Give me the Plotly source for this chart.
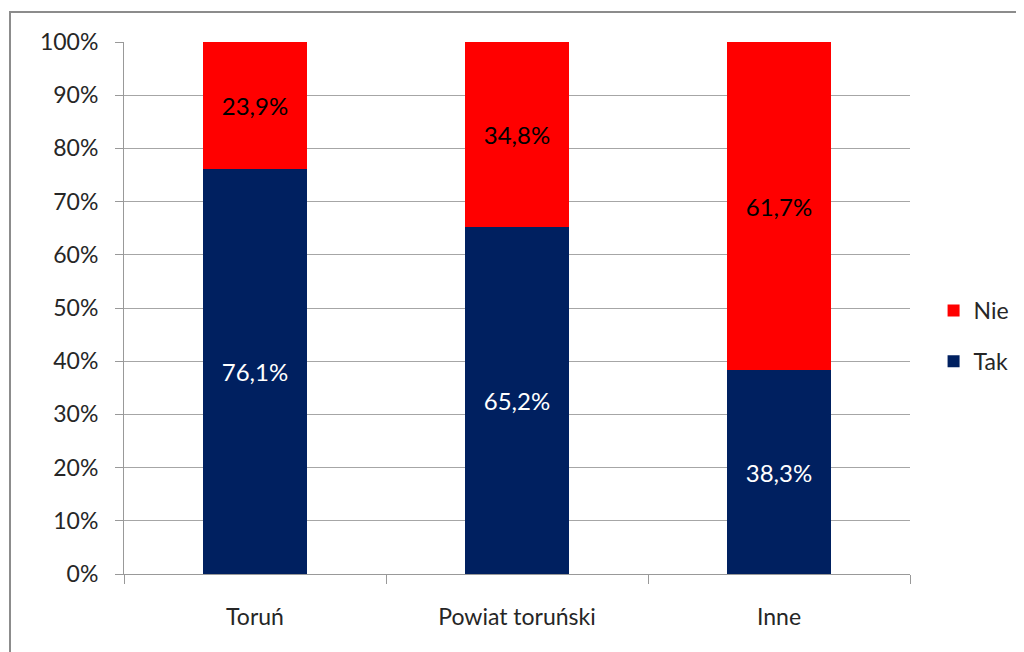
import plotly.graph_objects as go

categories = ["Toruń", "Powiat toruński", "Inne"]
tak_values = [76.1, 65.2, 38.3]
nie_values = [23.9, 34.8, 61.7]
y_tick_vals = [0, 10, 20, 30, 40, 50, 60, 70, 80, 90, 100]
y_tick_text = [f"{v}%" for v in y_tick_vals]

def fmt(v):
    return f"{v:.1f}%".replace(".", ",")

FONT = "Lato"
FS = 23
fig = go.Figure()
fig.add_trace(go.Bar(
    x=categories, y=tak_values, name="Tak", marker_color="#002060",
    marker_line_width=0,
    text=[fmt(v) for v in tak_values], textposition="inside",
    insidetextanchor="middle", textangle=0,
    textfont=dict(color="white", size=24, family=FONT),
    legendgroup="tak", legendrank=2, hoverinfo="skip",
))
fig.add_trace(go.Bar(
    x=categories, y=nie_values, name="Nie", marker_color="#FF0000",
    marker_line_width=0,
    text=[fmt(v) for v in nie_values], textposition="inside",
    insidetextanchor="middle", textangle=0,
    textfont=dict(color="black", size=24, family=FONT),
    legendgroup="nie", legendrank=1, hoverinfo="skip",
))

# page body has an 8px margin; compensate
L, T = 116, 34
PW, PH = 786, 532
fig.update_layout(
    barmode="stack",
    bargap=0.6,
    width=1016, height=644,
    margin=dict(l=L, r=114, t=T, b=78, autoexpand=False),
    paper_bgcolor="white", plot_bgcolor="white",
    font=dict(family=FONT, size=FS, color="#262626"),
    legend=dict(
        xref="container", yref="container",
        x=0.911, y=(644 - (336 - 8)) / 644, xanchor="left", yanchor="middle",
        traceorder="grouped", tracegroupgap=18,
        font=dict(size=FS, family=FONT, color="#262626"),
        itemwidth=30,
    ),
    showlegend=True,
)
fig.update_xaxes(
    type="category", tickson="boundaries", ticks="outside", ticklen=9,
    tickcolor="#999999", showline=True, linecolor="#999999", linewidth=1,
    showgrid=False, ticklabelstandoff=22,
)
fig.update_yaxes(
    range=[0, 100], tickvals=y_tick_vals, ticktext=y_tick_text,
    ticks="outside", ticklen=8, tickcolor="#999999",
    showline=True, linecolor="#999999", linewidth=1,
    showgrid=True, gridcolor="#a6a6a6", gridwidth=1,
    ticklabelstandoff=12, zeroline=False,
)
# outer chart border (page coords: left 10, top 12, extends past right/bottom)
fig.add_shape(
    type="rect", xref="paper", yref="paper",
    x0=(2 - L) / PW, x1=(1060 - L) / PW,
    y0=-(100) / PH, y1=1 + (T - 4) / PH,
    line=dict(color="#8c8c8c", width=2), fillcolor="rgba(0,0,0,0)",
    layer="below",
)
fig.write_html("out.html")
